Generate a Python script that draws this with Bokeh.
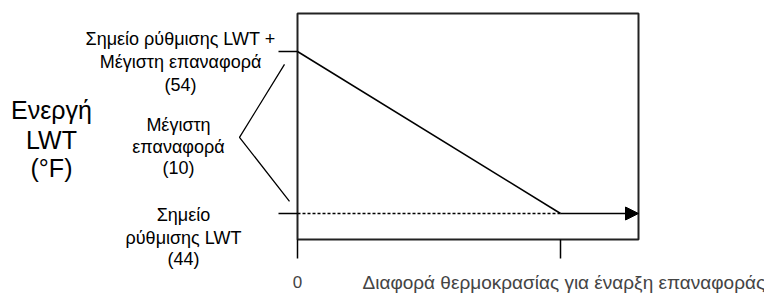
from bokeh.plotting import figure
from bokeh.models import Range1d, Label, Arrow, NormalHead
from bokeh.embed import file_html
from bokeh.resources import INLINE

# ---- data (°F) ----
setpoint = 44          # LWT set point
max_reset = 10         # maximum reset
reset_dt = 10          # temperature difference at which reset starts (nominal)
line_x = [0, reset_dt]
line_y = [setpoint + max_reset, setpoint]
x_ticks = [0, reset_dt]
y_ticks = [setpoint, setpoint + max_reset]

top_lines = ["Σημείο ρύθμισης LWT +", "Μέγιστη επαναφορά", "(54)"]
mid_lines = ["Μέγιστη", "επαναφορά", "(10)"]
bot_lines = ["Σημείο", "ρύθμισης LWT", "(44)"]
ylab_lines = ["Ενεργή", "LWT", "(°F)"]
xlab = "Διαφορά θερμοκρασίας για έναρξη επαναφοράς"
x0_label = "0"

FONT = "Liberation Sans"

# ---- layout (page pixels) ----
W, H = 764, 293
X0_PX = 297          # x = 0
BOX_R_PX = 638       # right edge of the plot box
BOX_T_PX = 13
BOX_B_PX = 239
Y54_PX = 51          # y = setpoint + max reset
PX_X = 26.3          # px per x unit
PX_Y = 16.2          # px per °F
TICK = 19

y_top_val = setpoint + max_reset

def dx(px):
    return (px - X0_PX) / PX_X

def dy(py):
    return y_top_val - (py - Y54_PX) / PX_Y

p = figure(width=W, height=H, output_backend="svg", toolbar_location=None,
           x_range=Range1d(dx(0), dx(W)), y_range=Range1d(dy(H), dy(0)),
           min_border=0)
p.axis.visible = False
p.grid.visible = False
p.outline_line_color = None
p.background_fill_color = "white"
p.border_fill_color = "white"

box_l, box_r = 0, dx(BOX_R_PX)
box_b, box_t = dy(BOX_B_PX), dy(BOX_T_PX)

# plot box
p.quad(left=[box_l], right=[box_r], bottom=[box_b], top=[box_t],
       fill_color=None, line_color="#222222", line_width=2)

# ticks
tick_dy = TICK / PX_Y
tick_dx = TICK / PX_X
p.segment(x0=x_ticks, y0=[box_b] * len(x_ticks), x1=x_ticks,
          y1=[box_b - tick_dy] * len(x_ticks), line_color="black", line_width=1.5)
p.segment(x0=[-tick_dx] * len(y_ticks), y0=y_ticks, x1=[0] * len(y_ticks),
          y1=y_ticks, line_color="black", line_width=1.5)

# descending line
p.line(line_x, line_y, line_color="black", line_width=1.5)
# dashed setpoint line
p.line(line_x, [setpoint, setpoint], line_color="black", line_width=1.3, line_dash="3 2")
# arrow to right edge
p.add_layout(Arrow(x_start=reset_dt, y_start=setpoint, x_end=box_r, y_end=setpoint,
                   line_color="black", line_width=1.5,
                   end=NormalHead(size=13, fill_color="black", line_color="black")))

# bracket
bx = [dx(284), dx(239), dx(289)]
by = [y_top_val - 0.8, (setpoint + y_top_val) / 2 - 0.3, setpoint + 0.75]
p.line(bx, by, line_color="black", line_width=1.3)

def add_lines(lines, cx, ys, size, font=FONT):
    for t, yy in zip(lines, ys):
        p.add_layout(Label(x=dx(cx), y=dy(yy), text=t, text_align="center",
                           text_baseline="middle", text_font_size=size,
                           text_font=font, text_color="black"))

add_lines(top_lines, 180, [38, 61, 84], "18px")
add_lines(mid_lines, 178, [124, 146, 167], "18px")
add_lines(bot_lines, 183, [214, 237, 258], "18px")
add_lines(ylab_lines, 51, [109, 139, 167], "25px")

p.add_layout(Label(x=0, y=dy(281), text=x0_label, text_align="center",
                   text_baseline="middle", text_font_size="17px", text_font=FONT))
p.add_layout(Label(x=dx(362), y=dy(282), text=xlab, text_align="left",
                   text_baseline="middle", text_font_size="19px", text_font=FONT))

open("out.html", "w").write(file_html(p, INLINE))
